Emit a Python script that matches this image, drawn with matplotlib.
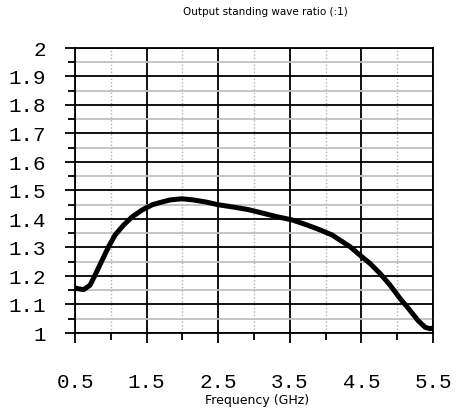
import matplotlib
matplotlib.use("Agg")
import matplotlib.pyplot as plt
from matplotlib.ticker import FixedLocator

freq = [0.51, 0.53, 0.62, 0.71, 0.78, 0.88, 0.97, 1.06, 1.18, 1.30, 1.44, 1.58, 1.69,
        1.83, 1.99, 2.15, 2.34, 2.50, 2.71, 2.92, 3.13, 3.32, 3.53, 3.74, 3.92, 4.09,
        4.20, 4.34, 4.48, 4.62, 4.76, 4.90, 5.04, 5.18, 5.29, 5.39, 5.46, 5.49]
vswr = [1.158, 1.156, 1.152, 1.168, 1.203, 1.256, 1.303, 1.344, 1.379, 1.408, 1.432, 1.45, 1.458,
        1.467, 1.471, 1.467, 1.459, 1.45, 1.442, 1.433, 1.42, 1.408, 1.397, 1.379, 1.362, 1.344,
        1.326, 1.303, 1.273, 1.244, 1.209, 1.168, 1.121, 1.079, 1.044, 1.02, 1.015, 1.017]

xticks = [0.5, 1.5, 2.5, 3.5, 4.5, 5.5]
xtick_labels = ["0.5", "1.5", "2.5", "3.5", "4.5", "5.5"]
yticks = [1.0, 1.1, 1.2, 1.3, 1.4, 1.5, 1.6, 1.7, 1.8, 1.9, 2.0]
ytick_labels = ["1", "1.1", "1.2", "1.3", "1.4", "1.5", "1.6", "1.7", "1.8", "1.9", "2"]

fig = plt.figure(figsize=(4.59, 4.11), dpi=100)
ax = fig.add_axes([75 / 459, 1 - 333 / 411, 358 / 459, 285 / 411])

ax.set_xlim(0.5, 5.5)
ax.set_ylim(1.0, 2.0)
ax.xaxis.set_major_locator(FixedLocator(xticks))
ax.xaxis.set_minor_locator(FixedLocator([1.0, 2.0, 3.0, 4.0, 5.0]))
ax.yaxis.set_major_locator(FixedLocator(yticks))
ax.yaxis.set_minor_locator(FixedLocator([1.05 + 0.1 * i for i in range(10)]))
ax.set_xticklabels(xtick_labels)
ax.set_yticklabels(ytick_labels)

ax.grid(which="major", axis="both", color="black", linewidth=1.3)
ax.grid(which="minor", axis="y", color="#c0c0c0", linewidth=1.3)
ax.grid(which="minor", axis="x", color="#b0b0b0", linewidth=1.0, linestyle=(0, (1, 1.5)))
ax.set_axisbelow(True)

for s in ax.spines.values():
    s.set_color("black")
    s.set_linewidth(1.3)

mono = "Liberation Mono"
ax.tick_params(which="major", direction="out", length=7, width=1.3, color="black")
ax.tick_params(which="minor", direction="out", length=5, width=1.3, color="black")
ax.tick_params(axis="y", which="major", pad=14, labelsize=15)
ax.tick_params(axis="x", which="major", pad=22, labelsize=15)
for lab in ax.get_xticklabels() + ax.get_yticklabels():
    lab.set_fontfamily(mono)

ax.plot(freq, vswr, color="black", linewidth=3.6, solid_capstyle="round", solid_joinstyle="round")

fig.text(265 / 459, 1 - 12 / 411, "Output standing wave ratio (:1)", ha="center", va="center",
         fontsize=7.5, family="DejaVu Sans")
fig.text(257 / 459, 1 - 400 / 411, "Frequency (GHz)", ha="center", va="center",
         fontsize=9, family="DejaVu Sans")

fig.savefig("out.png", dpi=100)
